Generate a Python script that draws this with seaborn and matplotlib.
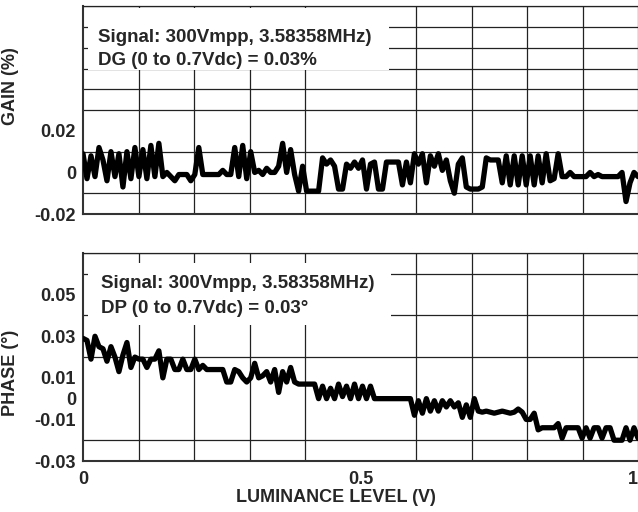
import numpy as np
import pandas as pd
import matplotlib
matplotlib.use("Agg")
import matplotlib.pyplot as plt
from matplotlib.patches import Rectangle
import seaborn as sns

# gain error (%), left to right
gain = [
    0.009, -0.003, 0.008, -0.002, 0.012, 0.006, -0.004, 0.010, -0.002, 0.009,
    -0.007, 0.010, -0.003, 0.012, -0.002, 0.011, -0.003, 0.013, -0.002, 0.014,
    -0.002, 0.000, -0.002, -0.004, -0.001, -0.001, -0.001, -0.004, -0.001, 0.012,
    -0.001, -0.001, -0.001, -0.001, -0.001, 0.001, -0.001, -0.001, 0.012, -0.002,
    0.013, -0.003, 0.010, 0.000, 0.001, -0.001, 0.002, 0.000, 0.000, 0.003,
    0.014, 0.000, 0.011, -0.001, -0.009, 0.003, -0.009, -0.009, -0.009, -0.009,
    0.007, 0.004, 0.006, 0.003, -0.008, -0.008, 0.004, 0.002, 0.005, 0.002,
    0.006, -0.008, 0.004, 0.005, -0.008, -0.008, 0.005, 0.005, 0.005, 0.005,
    -0.006, 0.005, -0.005, 0.009, 0.004, 0.009, -0.005, 0.008, 0.003, 0.009,
    0.001, 0.006, -0.004, -0.010, 0.004, 0.007, -0.007, -0.008, -0.008, -0.008,
    -0.007, 0.007, 0.006, 0.006, 0.006, -0.005, 0.008, -0.006, 0.008, -0.006,
    0.008, -0.006, 0.008, -0.006, 0.008, -0.005, 0.009, -0.004, -0.003, 0.009,
    -0.002, -0.002, 0.000, -0.002, -0.002, -0.002, -0.002, 0.000, -0.002, -0.001,
    -0.002, -0.002, -0.002, -0.002, -0.002, 0.000, -0.014, -0.005, 0.000, -0.002,
]

# phase error (degrees)
phase = [
    0.029, 0.028, 0.019, 0.030, 0.025, 0.024, 0.018, 0.025, 0.020, 0.013,
    0.021, 0.027, 0.015, 0.020, 0.019, 0.019, 0.015, 0.019, 0.019, 0.023,
    0.010, 0.019, 0.019, 0.014, 0.014, 0.019, 0.014, 0.014, 0.019, 0.014,
    0.016, 0.014, 0.014, 0.014, 0.014, 0.014, 0.008, 0.008, 0.014, 0.013,
    0.010, 0.008, 0.010, 0.017, 0.010, 0.011, 0.013, 0.008, 0.014, 0.003,
    0.013, 0.008, 0.015, 0.008, 0.007, 0.007, 0.007, 0.007, 0.007, 0.000,
    0.006, 0.000, 0.005, 0.000, 0.007, 0.001, 0.006, 0.000, 0.007, 0.000,
    0.006, 0.000, 0.006, 0.000, 0.000, 0.000, 0.000, 0.000, 0.000, 0.000,
    0.000, 0.000, 0.000, -0.008, -0.001, -0.007, 0.000, -0.006, -0.001, -0.006,
    -0.001, -0.004, -0.001, -0.004, -0.002, -0.009, -0.003, -0.009, 0.000, -0.006,
    -0.0065, -0.006, -0.0065, -0.007, -0.0065, -0.006, -0.0065, -0.007, -0.0065, -0.005,
    -0.0065, -0.010, -0.010, -0.007, -0.015, -0.014, -0.014, -0.014, -0.014, -0.012,
    -0.019, -0.014, -0.014, -0.014, -0.014, -0.019, -0.014, -0.019, -0.014, -0.014,
    -0.019, -0.014, -0.014, -0.020, -0.020, -0.020, -0.014, -0.020, -0.014, -0.019,
]

gain_ticks = [-0.02, 0, 0.02]
gain_ticklabels = ["-0.02", "0", "0.02"]
phase_ticks = [-0.03, -0.01, 0, 0.01, 0.03, 0.05]
phase_ticklabels = ["-0.03", "-0.01", "0", "0.01", "0.03", "0.05"]
x_ticks = [0, 0.5, 1]
x_ticklabels = ["0", "0.5", "1"]

gain_note = ["Signal: 300Vmpp, 3.58358MHz)", "DG (0 to 0.7Vdc) = 0.03%"]
phase_note = ["Signal: 300Vmpp, 3.58358MHz)", "DP (0 to 0.7Vdc) = 0.03\u00b0"]

df_gain = pd.DataFrame({"lum": np.linspace(0, 1, len(gain)), "val": gain})
df_phase = pd.DataFrame({"lum": np.linspace(0, 1, len(phase)), "val": phase})

sns.set_style("white")
plt.rcParams["font.family"] = ["Liberation Sans", "DejaVu Sans"]
plt.rcParams["font.weight"] = "bold"

fig = plt.figure(figsize=(6.38, 5.12), dpi=100)
ax1 = fig.add_axes([0.1301, 0.582, 0.8699, 0.406])
ax2 = fig.add_axes([0.1301, 0.0996, 0.8699, 0.406])


def style_panel(ax, ylim, ticks, labels):
    ax.set_xlim(0, 1)
    ax.set_ylim(*ylim)
    ax.set_xticks(np.linspace(0, 1, 11), minor=True)
    ax.set_yticks(np.arange(ylim[0], ylim[1] + 1e-9, 0.01), minor=True)
    ax.grid(True, which="minor", color="#222222", linewidth=0.9)
    ax.set_axisbelow(True)
    ax.set_yticks(ticks)
    ax.set_yticklabels(labels, fontsize=13, fontweight="bold")
    ax.tick_params(which="both", length=0)
    ax.tick_params(axis="y", pad=5)
    ax.tick_params(axis="x", pad=7)
    for side in ["top", "right"]:
        ax.spines[side].set_linewidth(0.9)
        ax.spines[side].set_color("#222222")
    for side in ["left", "bottom"]:
        ax.spines[side].set_linewidth(1.5)
        ax.spines[side].set_color("#333333")


def add_note(ax, lines, box, x0, ys):
    ax.add_patch(Rectangle((box[0], box[1]), box[2], box[3], transform=ax.transAxes,
                           facecolor="white", edgecolor="none", zorder=2))
    for txt, y in zip(lines, ys):
        ax.text(x0, y, txt, transform=ax.transAxes, fontsize=13.5, fontweight="bold",
                va="center", ha="left", zorder=3)


sns.lineplot(data=df_gain, x="lum", y="val", ax=ax1, color="black", linewidth=3.8, zorder=4)
style_panel(ax1, (-0.02, 0.08), gain_ticks, gain_ticklabels)
ax1.set_xticks(x_ticks)
ax1.set_xticklabels([])
ax1.set_xlabel("")
ax1.set_ylabel("GAIN (%)", fontsize=13, fontweight="bold")
ax1.yaxis.set_label_coords(-0.116, 0.615)
add_note(ax1, gain_note, (0.009, 0.692, 0.543, 0.298), 0.027, (0.851, 0.740))

sns.lineplot(data=df_phase, x="lum", y="val", ax=ax2, color="black", linewidth=3.8, zorder=4)
style_panel(ax2, (-0.03, 0.07), phase_ticks, phase_ticklabels)
ax2.set_xticks(x_ticks)
ax2.set_xticklabels(x_ticklabels, fontsize=13, fontweight="bold")
# the last label sits on the figure edge, keep it inside
ax2.get_xticklabels()[-1].set_ha("right")
ax2.set_xlabel("LUMINANCE LEVEL (V)", fontsize=13, fontweight="bold")
ax2.xaxis.set_label_coords(0.455, -0.135)
ax2.set_ylabel("PHASE (\u00b0)", fontsize=13, fontweight="bold")
ax2.yaxis.set_label_coords(-0.116, 0.423)
add_note(ax2, phase_note, (0.009, 0.654, 0.546, 0.298), 0.033, (0.856, 0.736))

fig.savefig("out.png", dpi=100)
